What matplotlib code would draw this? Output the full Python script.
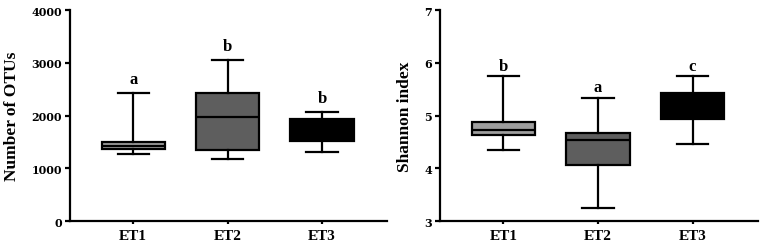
import matplotlib
matplotlib.use("Agg")
import matplotlib.pyplot as plt

plt.rcParams['font.family'] = ['Liberation Serif', 'DejaVu Serif']
plt.rcParams['font.weight'] = 'bold'

# data (min, q1, median, q3, max)
groups = ["ET1", "ET2", "ET3"]
otu_min = [1280, 1185, 1300]
otu_q1 = [1360, 1350, 1515]
otu_med = [1425, 1980, 1720]
otu_q3 = [1500, 2425, 1930]
otu_max = [2430, 3060, 2060]
otu_letters = ["a", "b", "b"]

sh_min = [4.35, 3.25, 4.46]
sh_q1 = [4.64, 4.06, 4.93]
sh_med = [4.72, 4.54, 5.20]
sh_q3 = [4.87, 4.67, 5.42]
sh_max = [5.74, 5.34, 5.74]
sh_letters = ["b", "a", "c"]

box_colors = ["#9e9e9e", "#5e5e5e", "#000000"]


def draw_panel(ax, mins, q1s, meds, q3s, maxs, letters, ylim, yticks, ylabel, gap):
    stats = []
    for lo, a, m, b, hi, g in zip(mins, q1s, meds, q3s, maxs, groups):
        stats.append({"whislo": lo, "q1": a, "med": m, "q3": b, "whishi": hi, "label": g})
    lw = 1.6
    bp = ax.bxp(stats, positions=range(len(groups)), widths=0.67, patch_artist=True,
                showfliers=False, capwidths=0.33,
                boxprops=dict(linewidth=lw, edgecolor="black"),
                medianprops=dict(color="black", linewidth=lw),
                whiskerprops=dict(color="black", linewidth=lw),
                capprops=dict(color="black", linewidth=lw))
    for patch, c in zip(bp["boxes"], box_colors):
        patch.set_facecolor(c)
    # significance letters
    for i, (hi, t) in enumerate(zip(maxs, letters)):
        ax.text(i, hi + gap, t, ha="center", va="baseline", fontsize=12, fontweight="bold")
    ax.set_xlim(-0.67, 2.69)
    ax.set_ylim(*ylim)
    ax.set_yticks(yticks)
    ax.set_yticklabels([str(v) for v in yticks], family="DejaVu Serif",
                       fontweight="bold", fontsize=8)
    ax.set_ylabel(ylabel, fontsize=12.5, fontweight="bold", labelpad=8)
    ax.spines["top"].set_visible(False)
    ax.spines["right"].set_visible(False)
    ax.spines["left"].set_linewidth(1.6)
    ax.spines["bottom"].set_linewidth(1.6)
    ax.tick_params(axis="y", length=3.3, width=1.6, pad=2.5)
    ax.tick_params(axis="x", length=2, width=1.6, pad=4)
    ax.set_xticks(range(len(groups)))
    ax.set_xticklabels(groups, fontweight="bold", fontsize=11)


fig = plt.figure(figsize=(7.64, 2.51), dpi=100)
ax1 = fig.add_axes([0.0916, 0.1155, 0.415, 0.8405])
ax2 = fig.add_axes([0.576, 0.1155, 0.416, 0.8405])

draw_panel(ax1, otu_min, otu_q1, otu_med, otu_q3, otu_max, otu_letters,
           (0, 4000), [0, 1000, 2000, 3000, 4000], "Number of OTUs", 190)
draw_panel(ax2, sh_min, sh_q1, sh_med, sh_q3, sh_max, sh_letters,
           (3, 7), [3, 4, 5, 6, 7], "Shannon index", 0.12)

fig.savefig("out.png", dpi=100)
